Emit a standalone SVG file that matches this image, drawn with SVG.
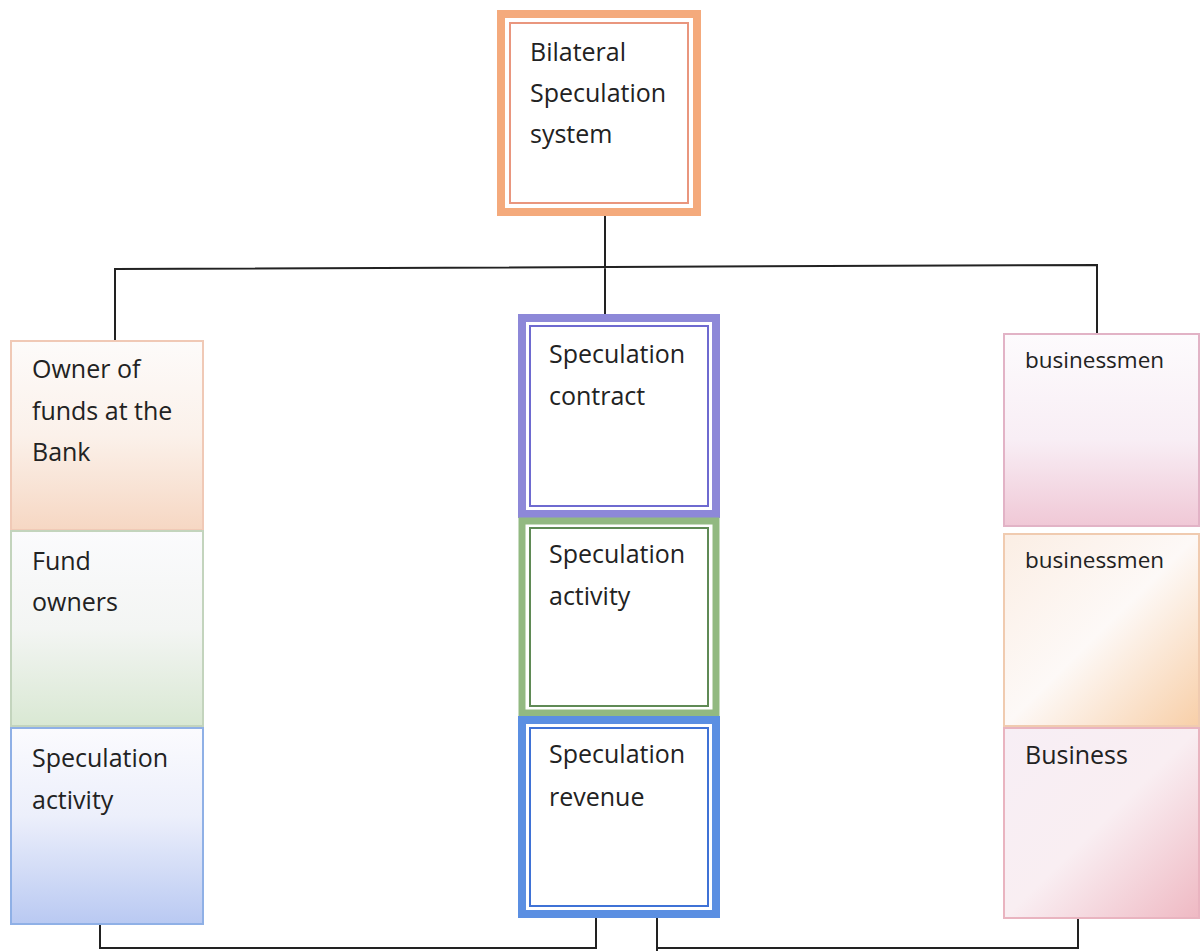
<svg xmlns="http://www.w3.org/2000/svg" width="1203" height="951" viewBox="0 0 1203 951">
<defs>
<linearGradient id="gPeach" x1="0" y1="0" x2="0" y2="1"><stop offset="0" stop-color="#fdfbfa"/><stop offset="0.5" stop-color="#fbf1ea"/><stop offset="1" stop-color="#f6d7c3"/></linearGradient>
<linearGradient id="gGreen" x1="0" y1="0" x2="0" y2="1"><stop offset="0" stop-color="#fbfbfd"/><stop offset="0.5" stop-color="#f3f5f3"/><stop offset="1" stop-color="#d9e8d3"/></linearGradient>
<linearGradient id="gBlue" x1="0" y1="0" x2="0" y2="1"><stop offset="0" stop-color="#fbfbfe"/><stop offset="0.45" stop-color="#eceffb"/><stop offset="1" stop-color="#b9c9f2"/></linearGradient>
<linearGradient id="gPink" x1="0" y1="0" x2="0" y2="1"><stop offset="0" stop-color="#fdfbfd"/><stop offset="0.55" stop-color="#f8eef5"/><stop offset="1" stop-color="#f0c8d6"/></linearGradient>
<linearGradient id="gOrange" x1="0" y1="0" x2="1" y2="1"><stop offset="0" stop-color="#fbeee4"/><stop offset="0.5" stop-color="#fdf9f7"/><stop offset="1" stop-color="#f8cfa8"/></linearGradient>
<linearGradient id="gRose" x1="0" y1="0" x2="1" y2="1"><stop offset="0" stop-color="#f7eef5"/><stop offset="0.5" stop-color="#f9eef2"/><stop offset="1" stop-color="#efb9c3"/></linearGradient>
</defs>
<style>
.t{font-family:"Open Sans","Noto Sans",sans-serif;font-size:25px;fill:#222}
.ts{font-family:"Open Sans","Noto Sans",sans-serif;font-size:22.5px;fill:#222}
.ln{stroke:#222;stroke-width:2;fill:none}
</style>
<g id="connectors">
<path class="ln" d="M605,216 V267 M115,340 V269 L1097,265 V333 M605,267 V315"/>
<path class="ln" d="M100,925 V948 H596 V918 M657,918 V951 M657,948 H1078 V918"/>
</g>
<g id="n-top">
<rect x="501" y="14" width="196" height="198" fill="none" stroke="#f4aa7c" stroke-width="8"/>
<rect x="507" y="20" width="184" height="186" fill="#fff"/>
<rect x="510" y="23" width="178" height="180" fill="none" stroke="#e9967e" stroke-width="2"/>
<text class="t" x="530" y="61">Bilateral</text>
<text class="t" x="530" y="102">Speculation</text>
<text class="t" x="530" y="143">system</text>
</g>
<g id="n-left1">
<rect x="11" y="341" width="192" height="189" fill="url(#gPeach)" stroke="#f0c9b6" stroke-width="2"/>
<text class="t" x="32" y="378">Owner of</text>
<text class="t" x="32" y="420">funds at the</text>
<text class="t" x="32" y="461">Bank</text>
</g>
<g id="n-left2">
<rect x="11" y="531" width="192" height="195" fill="url(#gGreen)" stroke="#c3d4bd" stroke-width="2"/>
<text class="t" x="32" y="570">Fund</text>
<text class="t" x="32" y="611">owners</text>
</g>
<g id="n-left3">
<rect x="11" y="728" width="192" height="196" fill="url(#gBlue)" stroke="#8fb0e6" stroke-width="2"/>
<text class="t" x="32" y="767">Speculation</text>
<text class="t" x="32" y="809">activity</text>
</g>
<g id="n-mid1">
<rect x="522" y="318" width="194" height="196" fill="none" stroke="#8d88d8" stroke-width="8"/>
<rect x="527" y="323" width="184" height="186" fill="#fff"/>
<rect x="530" y="326" width="178" height="180" fill="none" stroke="#6e6ad0" stroke-width="2"/>
<text class="t" x="549" y="363">Speculation</text>
<text class="t" x="549" y="405">contract</text>
</g>
<g id="n-mid2">
<rect x="522" y="521" width="194" height="192" fill="none" stroke="#92b981" stroke-width="7"/>
<rect x="527" y="525" width="184" height="184" fill="#fff"/>
<rect x="530" y="528" width="178" height="178" fill="none" stroke="#5f8a55" stroke-width="2"/>
<text class="t" x="549" y="563">Speculation</text>
<text class="t" x="549" y="605">activity</text>
</g>
<g id="n-mid3">
<rect x="522" y="720" width="194" height="194" fill="none" stroke="#5b8fe2" stroke-width="8"/>
<rect x="527" y="725" width="184" height="184" fill="#fff"/>
<rect x="530" y="728" width="178" height="178" fill="none" stroke="#3f72d6" stroke-width="2"/>
<text class="t" x="549" y="763">Speculation</text>
<text class="t" x="549" y="806">revenue</text>
</g>
<g id="n-right1">
<rect x="1004" y="334" width="195" height="192" fill="url(#gPink)" stroke="#e2b3c6" stroke-width="2"/>
<text class="ts" x="1025" y="368">businessmen</text>
</g>
<g id="n-right2">
<rect x="1004" y="534" width="195" height="192" fill="url(#gOrange)" stroke="#f0cbb0" stroke-width="2"/>
<text class="ts" x="1025" y="568">businessmen</text>
</g>
<g id="n-right3">
<rect x="1004" y="728" width="195" height="190" fill="url(#gRose)" stroke="#e9b4c0" stroke-width="2"/>
<text class="t" x="1025" y="764">Business</text>
</g>
</svg>
